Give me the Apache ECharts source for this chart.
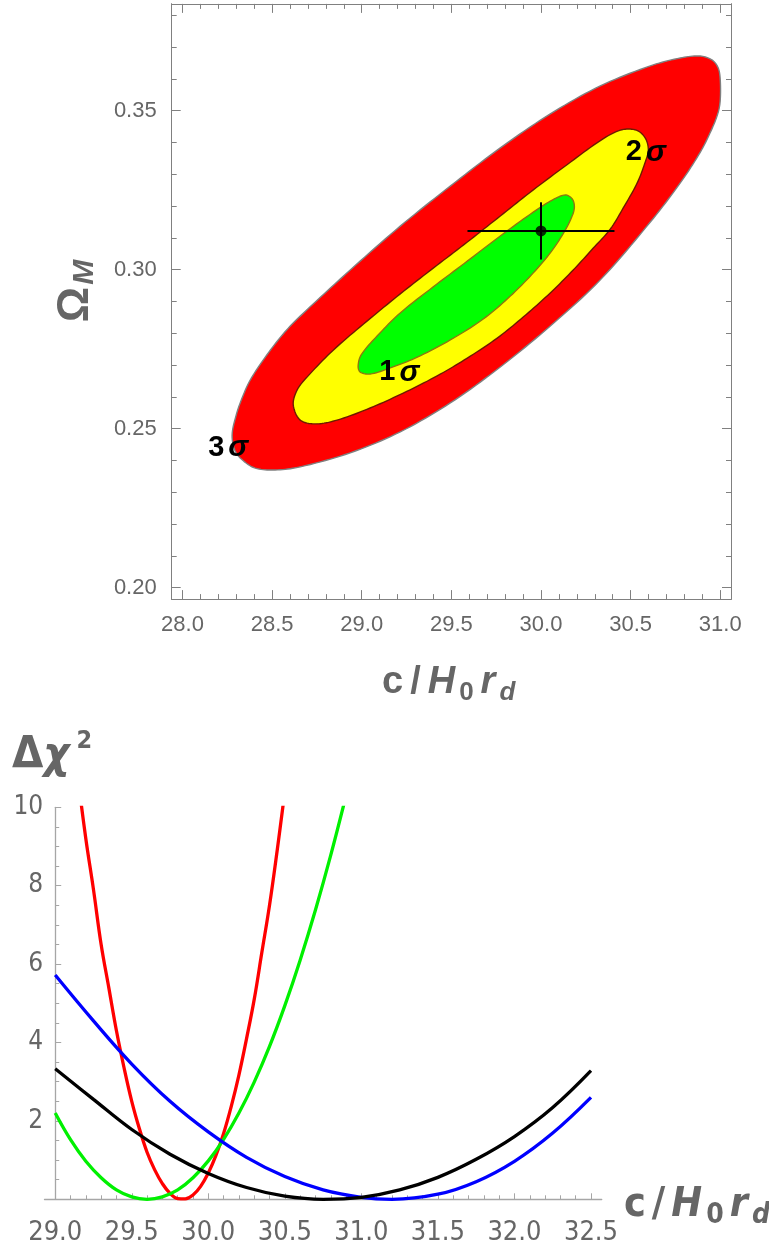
<!DOCTYPE html>
<html><head><meta charset="utf-8">
<script src="https://cdn.jsdelivr.net/npm/echarts@6.0.0/dist/echarts.min.js"></script>
<style>html,body{margin:0;padding:0;background:#fff}#c{width:769px;height:1253px}</style>
</head><body><div id="c"></div>
<script>
// ---------- Top panel: confidence regions in (c/H0rd, Omega_M) ----------
const contour3sigma = [
  [28.277,0.2480],[28.300,0.2543],[28.333,0.2597],[28.378,0.2653],[28.462,0.2725],[28.562,0.2798],
  [28.657,0.2854],[28.936,0.2999],[29.215,0.3137],[29.494,0.3263],[29.773,0.3383],[30.052,0.3490],
  [30.331,0.3578],[30.610,0.3641],[30.777,0.3666],[30.889,0.3672],[30.956,0.3659],[30.989,0.3634],
  [31.000,0.3597],[31.000,0.3534],[30.989,0.3496],[30.956,0.3446],[30.889,0.3370],[30.777,0.3273],
  [30.610,0.3150],[30.331,0.2968],[30.052,0.2823],[29.773,0.2694],[29.494,0.2581],[29.215,0.2490],
  [28.936,0.2424],[28.657,0.2380],[28.517,0.2370],[28.406,0.2376],[28.333,0.2402],[28.294,0.2430]
];
const contour2sigma = [
  [28.618,0.2575],[28.640,0.2622],[28.696,0.2663],[28.841,0.2747],[29.031,0.2839],[29.215,0.2924],
  [29.399,0.3005],[29.589,0.3087],[29.773,0.3169],[29.957,0.3251],[30.147,0.3331],[30.331,0.3406],
  [30.443,0.3439],[30.532,0.3439],[30.582,0.3414],[30.599,0.3376],[30.582,0.3339],[30.537,0.3273],
  [30.465,0.3200],[30.387,0.3128],[30.292,0.3068],[30.180,0.2999],[30.052,0.2927],[29.901,0.2851],
  [29.756,0.2785],[29.589,0.2722],[29.421,0.2666],[29.232,0.2612],[29.047,0.2565],[28.863,0.2527],
  [28.741,0.2515],[28.657,0.2527]
];
const contour1sigma = [
  [28.980,0.2697],[28.997,0.2732],[29.087,0.2792],[29.215,0.2864],[29.399,0.2946],[29.589,0.3027],
  [29.773,0.3106],[29.957,0.3181],[30.063,0.3219],[30.136,0.3235],[30.175,0.3222],[30.186,0.3194],
  [30.164,0.3156],[30.119,0.3109],[30.052,0.3053],[29.957,0.2990],[29.829,0.2917],[29.678,0.2845],
  [29.494,0.2779],[29.310,0.2725],[29.159,0.2691],[29.047,0.2672],[28.992,0.2678]
];
const bestFit = [30.0, 0.3122];
const bestFitErr = [0.41, 0.0090];
const sigmaLabels = [[29.210,0.2677,'1'],[30.585,0.3369,'2'],[28.255,0.2439,'3']];

const topXTicks = [28.0,28.5,29.0,29.5,30.0,30.5,31.0];
const topXMinor = [28.1,28.2,28.3,28.4,28.6,28.7,28.8,28.9,29.1,29.2,29.3,29.4,29.6,29.7,29.8,29.9,
                   30.1,30.2,30.3,30.4,30.6,30.7,30.8,30.9];
const topYTicks = [0.20,0.25,0.30,0.35];
const topYMinor = [0.21,0.22,0.23,0.24,0.26,0.27,0.28,0.29,0.31,0.32,0.33,0.34,0.36,0.37,0.38];

// ---------- Bottom panel: Delta chi^2 profiles ----------
const chiRed = [[29.15,10.7],[29.2,9.2],[29.25,7.9],[29.3,6.5],[29.35,5.4],[29.4,4.3],[29.45,3.35],
  [29.5,2.5],[29.55,1.8],[29.6,1.2],[29.65,0.75],[29.7,0.4],[29.75,0.15],[29.8,0.02],[29.85,0.01],
  [29.9,0.11],[29.95,0.33],[30.0,0.67],[30.05,1.12],[30.1,1.68],[30.15,2.37],[30.2,3.17],[30.25,4.1],
  [30.3,5.1],[30.35,6.3],[30.4,7.5],[30.45,8.9],[30.5,10.4]];
const chiGreen = [[29.0,2.2],[29.1,1.52],[29.2,0.97],[29.3,0.55],[29.4,0.24],[29.5,0.06],[29.6,0.0],
  [29.7,0.06],[29.8,0.24],[29.9,0.55],[30.0,0.98],[30.1,1.53],[30.2,2.2],[30.3,2.99],[30.4,3.9],
  [30.5,4.94],[30.6,6.1],[30.7,7.38],[30.8,8.78],[30.9,10.3]];
const chiBlue = [[29.0,5.72],[29.25,4.55],[29.5,3.45],[29.75,2.5],[30.0,1.72],[30.25,1.07],[30.5,0.58],
  [30.75,0.24],[31.0,0.05],[31.2,0.0],[31.5,0.13],[31.75,0.45],[32.0,0.97],[32.25,1.69],[32.5,2.6]];
const chiBlack = [[29.0,3.33],[29.25,2.55],[29.5,1.78],[29.75,1.15],[30.0,0.66],[30.25,0.3],[30.5,0.08],
  [30.75,0.0],[31.0,0.05],[31.25,0.24],[31.5,0.56],[31.75,1.02],[32.0,1.6],[32.25,2.34],[32.5,3.28]];

const botXTicks = [29.0,29.5,30.0,30.5,31.0,31.5,32.0,32.5];
const botXMinor = [29.1,29.2,29.3,29.4,29.6,29.7,29.8,29.9,30.1,30.2,30.3,30.4,30.6,30.7,30.8,30.9,
                   31.1,31.2,31.3,31.4,31.6,31.7,31.8,31.9,32.1,32.2,32.3,32.4];
const botYTicks = [2,4,6,8,10];
const botYMinor = [0.5,1,1.5,2.5,3,3.5,4.5,5,5.5,6.5,7,7.5,8.5,9,9.5];

// ---------- layout ----------
const F = "'Liberation Sans', Arial, sans-serif";
const FN = "'Liberation Sans Narrow','DejaVu Sans Condensed','Liberation Sans', sans-serif";
const TX = [27.94, 31.06], TY = [0.1964, 0.3836];
const BX = [28.93, 32.57], BY = [0, 10];
const topGrid = {left:171.7, top:3.9, width:559.3, height:595.2};
const botGrid = {left:44.5, top:807.3, width:557.2, height:392};
const frameC = '#808080', axisC = '#a6a6a6', labC = '#666666';

function ax(o) {
  return Object.assign({type:'value', splitLine:{show:false}, axisLine:{show:true, onZero:false, lineStyle:{color:frameC, width:1}},
    axisLabel:{show:false}, axisTick:{show:false}}, o);
}
function ticks(vals, len, color) {
  return {show:true, inside:true, length:len, customValues:vals, lineStyle:{color:color, width:1}};
}

const xAxis = [
  ax({gridIndex:0, position:'bottom', min:TX[0], max:TX[1], axisTick:ticks(topXTicks,9,frameC),
      axisLabel:{show:true, customValues:topXTicks, formatter:v=>v.toFixed(1), color:labC, fontSize:22, fontFamily:F, margin:15}}),
  ax({gridIndex:0, position:'bottom', min:TX[0], max:TX[1], axisTick:ticks(topXMinor,5,frameC)}),
  ax({gridIndex:0, position:'top', min:TX[0], max:TX[1], axisTick:ticks(topXTicks,9,frameC)}),
  ax({gridIndex:0, position:'top', min:TX[0], max:TX[1], axisTick:ticks(topXMinor,5,frameC)}),
  ax({gridIndex:1, position:'bottom', min:BX[0], max:BX[1], axisLine:{show:true,onZero:false,lineStyle:{color:axisC,width:1.3}},
      axisTick:ticks(botXTicks,6,axisC),
      axisLabel:{show:true, customValues:botXTicks, formatter:v=>v.toFixed(1), color:labC, fontSize:27, fontFamily:FN, margin:20}}),
  ax({gridIndex:1, position:'bottom', min:BX[0], max:BX[1], axisLine:{show:false}, axisTick:ticks(botXMinor,4,axisC)})
];
const yOff = -(29.0 - BX[0]) / (BX[1] - BX[0]) * botGrid.width;
const yAxis = [
  ax({gridIndex:0, position:'left', min:TY[0], max:TY[1], axisTick:ticks(topYTicks,9,frameC),
      axisLabel:{show:true, customValues:topYTicks, formatter:v=>v.toFixed(2), color:labC, fontSize:22, fontFamily:F, margin:15}}),
  ax({gridIndex:0, position:'left', min:TY[0], max:TY[1], axisTick:ticks(topYMinor,5,frameC)}),
  ax({gridIndex:0, position:'right', min:TY[0], max:TY[1], axisTick:ticks(topYTicks,9,frameC)}),
  ax({gridIndex:0, position:'right', min:TY[0], max:TY[1], axisTick:ticks(topYMinor,5,frameC)}),
  ax({gridIndex:1, position:'left', offset:yOff, min:BY[0], max:BY[1], axisLine:{show:true,onZero:false,lineStyle:{color:axisC,width:1.3}},
      axisTick:ticks(botYTicks,6,axisC),
      axisLabel:{show:true, customValues:botYTicks, formatter:v=>String(v), color:labC, fontSize:26, fontFamily:FN, margin:12}}),
  ax({gridIndex:1, position:'left', offset:yOff, min:BY[0], max:BY[1], axisLine:{show:false}, axisTick:ticks(botYMinor,4,axisC)})
];

// smooth closed outline through the given screen points (rendering only)
function smoothRing(P, steps) {
  const n = P.length, out = [];
  const d = (a, b) => Math.hypot(b[0]-a[0], b[1]-a[1]);
  const T = P.map((p, i) => {
    const a = P[(i-1+n)%n], b = P[(i+1)%n];
    const s = d(a, p) + d(p, b) || 1;
    return [(b[0]-a[0])/s, (b[1]-a[1])/s];
  });
  for (let i = 0; i < n; i++) {
    const j = (i+1)%n, p = P[i], q = P[j], L = d(p, q) / 3;
    const c1 = [p[0]+T[i][0]*L, p[1]+T[i][1]*L], c2 = [q[0]-T[j][0]*L, q[1]-T[j][1]*L];
    for (let k = 0; k < steps; k++) {
      const t = k/steps, u = 1-t;
      out.push([u*u*u*p[0]+3*u*u*t*c1[0]+3*u*t*t*c2[0]+t*t*t*q[0],
                u*u*u*p[1]+3*u*u*t*c1[1]+3*u*t*t*c2[1]+t*t*t*q[1]]);
    }
  }
  return out;
}

function region(pts, fill, stroke, z) {
  return {
    type:'custom', coordinateSystem:'cartesian2d', xAxisIndex:0, yAxisIndex:0, z:z, silent:true,
    data: pts,
    renderItem: function(params, api) {
      if (params.dataIndex !== 0) return null;
      const p = smoothRing(pts.map(q => api.coord(q)), 10);
      return {type:'polygon', shape:{points:p}, style:{fill:fill, stroke:stroke, lineWidth:1.4}};
    }
  };
}
function curve(data, color) {
  return {type:'line', xAxisIndex:4, yAxisIndex:4, data:data, smooth:0.4, showSymbol:false, symbol:'none',
    lineStyle:{color:color, width:3.3}, clip:true, silent:true};
}

const series = [
  region(contour3sigma, '#ff0000', '#808080', 1),
  region(contour2sigma, '#ffff00', '#6e1a00', 2),
  region(contour1sigma, '#00ff00', '#8a7a10', 3),
  {type:'custom', coordinateSystem:'cartesian2d', xAxisIndex:0, yAxisIndex:0, z:5, silent:true,
   data:[[bestFit[0], bestFit[1], bestFitErr[0], bestFitErr[1]]],
   encode:{x:0, y:1},
   renderItem:function(params, api){
     const x=api.value(0), y=api.value(1), ex=api.value(2), ey=api.value(3);
     const a=api.coord([x-ex,y]), b=api.coord([x+ex,y]), c=api.coord([x,y-ey]), d=api.coord([x,y+ey]);
     return {type:'group', children:[
       {type:'line', shape:{x1:a[0],y1:a[1],x2:b[0],y2:b[1]}, style:{stroke:'#000', lineWidth:2}},
       {type:'line', shape:{x1:c[0],y1:c[1],x2:d[0],y2:d[1]}, style:{stroke:'#000', lineWidth:2}}
     ]};
   }},
  {type:'scatter', xAxisIndex:0, yAxisIndex:0, z:6, silent:true, data:[bestFit], symbolSize:11, itemStyle:{color:'#000'}},
  {type:'scatter', xAxisIndex:0, yAxisIndex:0, z:7, silent:true, data:sigmaLabels, symbolSize:1,
   itemStyle:{color:'rgba(0,0,0,0)'},
   label:{show:true, position:'inside', color:'#000', opacity:1, textBorderWidth:0,
     formatter:p=>'{n|'+p.data[2]+'}{s|σ}',
     rich:{n:{fontSize:29, fontWeight:'bold', color:'#000', fontFamily:F},
           s:{fontSize:30, fontWeight:'bold', fontStyle:'italic', color:'#000', fontFamily:F, padding:[0,0,0,4]}}}},
  curve(chiRed, '#ff0000'),
  curve(chiGreen, '#00f000'),
  curve(chiBlue, '#0000ff'),
  curve(chiBlack, '#000000')
];

function mathRich(size, sub, fam, gap) {
  const lh = size + 4;
  const base = {fill:labC, fontFamily:fam, fontWeight:'bold', fontSize:size, lineHeight:lh, verticalAlign:'top'};
  const mainBase = lh / 2 + 0.35 * size;
  const padTop = Math.round(mainBase + 0.3 * size - (sub / 2 + 0.35 * sub));
  const s = {fill:labC, fontFamily:fam, fontWeight:'bold', fontSize:sub, lineHeight:sub, verticalAlign:'bottom'};
  return {
    a: Object.assign({}, base, {padding:[0,gap,0,0]}),
    i: Object.assign({}, base, {fontStyle:'italic', padding:[0,3,0,0]}),
    s: Object.assign({}, s, {padding:[padTop,gap,0,1]}),
    si: Object.assign({}, s, {fontStyle:'italic', padding:[padTop,0,0,1]})
  };
}
const cH0rd = '{a|c}{a|/}{i|H}{s|0}{i|r}{si|d}';

const graphic = [
  {type:'text', x:382, y:664, z:50, silent:true, style:{text:cH0rd, rich:mathRich(38,26,F,7)}},
  {type:'text', x:77, y:291, rotation:Math.PI/2, z:50, silent:true,
   style:{text:'{o|Ω}{m|M}', align:'center', verticalAlign:'middle', textAlign:'center', textVerticalAlign:'middle',
     rich:{o:{fill:labC, fontFamily:F, fontWeight:'bold', fontSize:44, lineHeight:46, verticalAlign:'top'},
           m:{fill:labC, fontFamily:F, fontWeight:'bold', fontStyle:'italic', fontSize:30, lineHeight:30, verticalAlign:'bottom', padding:[25,0,0,2]}}}},
  {type:'text', x:12, y:729, z:50, silent:true,
   style:{text:'{d|Δ}{c|χ}{s|2}',
     rich:{d:{fill:labC, fontFamily:FN, fontWeight:'bold', fontSize:45, lineHeight:50, verticalAlign:'bottom', padding:[8,0,0,0]},
           c:{fill:labC, fontFamily:FN, fontWeight:'bold', fontStyle:'italic', fontSize:45, lineHeight:50, verticalAlign:'bottom', padding:[8,7,0,0]},
           s:{fill:labC, fontFamily:FN, fontWeight:'bold', fontSize:25, lineHeight:25, verticalAlign:'top'}}}},
  {type:'text', x:624, y:1185, z:50, silent:true, style:{text:cH0rd, rich:mathRich(41,28,FN,6)}}
];

const chart = echarts.init(document.getElementById('c'), null, {renderer:'canvas'});
chart.setOption({
  animation:false,
  backgroundColor:'#ffffff',
  grid:[Object.assign({containLabel:false, outerBoundsMode:'none'}, topGrid),
        Object.assign({containLabel:false, outerBoundsMode:'none'}, botGrid)],
  xAxis:xAxis, yAxis:yAxis, series:series, graphic:graphic
});
</script></body></html>
